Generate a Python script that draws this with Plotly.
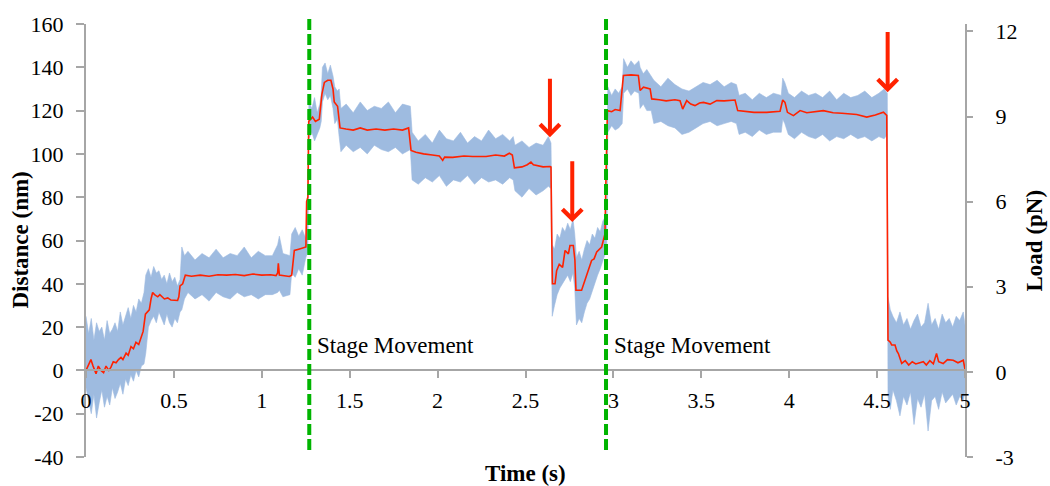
import plotly.graph_objects as go

# ---------------- data ----------------
# smoothed distance trace (red)
red_t = [0.000, 0.015, 0.028, 0.040, 0.057, 0.070, 0.085, 0.100, 0.114, 0.130, 0.142, 0.155, 0.171, 0.185,
         0.199, 0.210, 0.228, 0.240, 0.256, 0.270, 0.284, 0.300, 0.313, 0.325, 0.338, 0.350, 0.360, 0.370,
         0.379, 0.390, 0.408, 0.420, 0.446, 0.465, 0.483, 0.521, 0.528, 0.535, 0.550, 0.565, 0.600, 0.650,
         0.700, 0.750, 0.800, 0.850, 0.900, 0.950, 1.000, 1.050, 1.081, 1.090, 1.094, 1.100, 1.130, 1.157,
         1.170, 1.185, 1.210, 1.230, 1.251, 1.255, 1.262, 1.267, 1.289, 1.305, 1.327, 1.342, 1.356, 1.375,
         1.393, 1.405, 1.412, 1.431, 1.445, 1.479, 1.520, 1.560, 1.600, 1.650, 1.700, 1.750, 1.800, 1.835,
         1.849, 1.877, 1.920, 1.970, 2.010, 2.029, 2.040, 2.086, 2.150, 2.200, 2.276, 2.330, 2.380, 2.408,
         2.425, 2.437, 2.480, 2.510, 2.531, 2.545, 2.600, 2.640, 2.645, 2.649, 2.653, 2.668, 2.677, 2.692,
         2.711, 2.725, 2.744, 2.753, 2.772, 2.781, 2.787, 2.819, 2.838, 2.857, 2.876, 2.890, 2.905, 2.933,
         2.952, 2.958, 2.966, 2.990, 3.010, 3.038, 3.057, 3.100, 3.142, 3.152, 3.171, 3.209, 3.218, 3.260,
         3.300, 3.350, 3.379, 3.394, 3.417, 3.440, 3.464, 3.490, 3.512, 3.550, 3.588, 3.630, 3.692, 3.707,
         3.750, 3.800, 3.872, 3.920, 3.948, 3.963, 3.976, 3.990, 4.024, 4.062, 4.100, 4.194, 4.250, 4.300,
         4.384, 4.441, 4.490, 4.536, 4.555, 4.558, 4.562, 4.575, 4.583, 4.602, 4.612, 4.621, 4.640, 4.660,
         4.680, 4.700, 4.720, 4.763, 4.780, 4.800, 4.820, 4.838, 4.850, 4.876, 4.900, 4.933, 4.960, 4.990,
         5.000]
red_y = [0.0, 3.0, 5.0, 2.0, -1.5, 2.0, 0.0, -1.0, 2.0, 0.0, 1.5, 4.0, 3.5, 5.0,
         6.0, 5.0, 8.0, 7.0, 11.0, 10.0, 13.0, 12.0, 15.0, 18.0, 26.0, 27.0, 28.0, 33.0,
         36.0, 35.0, 34.0, 35.0, 33.0, 33.5, 32.5, 32.3, 34.0, 39.0, 40.0, 44.0, 43.5, 44.0,
         43.5, 44.2, 44.0, 44.3, 43.8, 44.5, 44.0, 44.2, 43.8, 45.0, 49.5, 44.0, 43.5, 43.4,
         44.0, 55.4, 56.0, 56.5, 57.0, 78.0, 80.0, 115.0, 117.0, 115.0, 116.0, 127.6, 133.0, 134.0,
         134.0, 130.0, 124.0, 122.0, 112.0, 111.5, 111.0, 112.0, 111.0, 111.5, 111.0, 111.5, 111.0, 112.0,
         101.6, 100.8, 100.0, 99.5, 99.0, 97.0, 98.5, 98.4, 99.0, 98.8, 98.8, 99.5, 99.0, 100.3,
         99.5, 93.6, 94.0, 95.0, 96.2, 95.0, 94.0, 94.2, 94.0, 64.0, 40.0, 40.0, 46.0, 49.0,
         47.6, 55.4, 53.8, 57.7, 57.7, 51.0, 37.0, 37.0, 41.5, 46.2, 50.8, 51.5, 54.7, 57.0,
         63.0, 90.0, 120.0, 119.5, 120.5, 120.0, 136.2, 136.5, 136.2, 129.3, 130.8, 130.0, 125.4, 125.0,
         124.5, 125.0, 124.6, 120.7, 124.6, 123.0, 122.3, 123.5, 123.8, 123.0, 124.6, 124.5, 124.9, 120.0,
         119.5, 119.2, 119.2, 119.5, 119.7, 124.9, 123.8, 119.2, 117.7, 120.0, 119.0, 120.0, 119.0, 118.8,
         118.2, 117.0, 118.0, 119.3, 117.8, 72.0, 14.0, 13.0, 11.7, 11.7, 9.0, 7.8, 3.2, 4.5,
         2.5, 4.0, 3.0, 4.0, 2.5, 4.5, 3.0, 7.8, 4.0, 3.2, 5.0, 4.7, 3.5, 4.7,
         0.5]

# raw-signal envelope (blue band): time, upper and lower edge
band_t = [0.000, 0.015, 0.030, 0.045, 0.060, 0.075, 0.090, 0.105, 0.120, 0.135, 0.150, 0.165, 0.180, 0.195,
          0.210, 0.225, 0.240, 0.255, 0.270, 0.285, 0.300, 0.315, 0.330,
          0.340, 0.355, 0.370, 0.385, 0.400, 0.415, 0.430, 0.445, 0.460, 0.475, 0.490, 0.505, 0.520, 0.535,
          0.545, 0.560, 0.580, 0.620, 0.660, 0.700, 0.740, 0.780, 0.820, 0.860, 0.900, 0.940, 0.980, 1.020,
          1.060, 1.090, 1.100, 1.120, 1.160,
          1.170, 1.190, 1.210, 1.230, 1.250, 1.262,
          1.268, 1.285, 1.300, 1.315, 1.330, 1.338, 1.345, 1.360, 1.375, 1.390, 1.405, 1.415, 1.430, 1.440,
          1.450, 1.480, 1.520, 1.560, 1.600, 1.640, 1.680, 1.720, 1.760, 1.800, 1.845,
          1.855, 1.890, 1.930, 1.970, 2.010, 2.050, 2.090, 2.130, 2.170, 2.210, 2.250, 2.290, 2.330, 2.370,
          2.410, 2.430,
          2.440, 2.480, 2.520, 2.560, 2.600, 2.630, 2.645,
          2.652, 2.665, 2.680, 2.695, 2.710, 2.725, 2.740, 2.755, 2.770, 2.780, 2.790, 2.805, 2.820, 2.835,
          2.850, 2.865, 2.880, 2.895, 2.910, 2.925, 2.940, 2.955, 2.962,
          2.968, 2.990, 3.010, 3.030, 3.050,
          3.058, 3.080, 3.100, 3.120, 3.145,
          3.152, 3.170, 3.190, 3.215,
          3.230, 3.270, 3.310, 3.350, 3.390, 3.430, 3.470, 3.510, 3.550, 3.590, 3.630, 3.670, 3.700,
          3.715, 3.750, 3.790, 3.830, 3.870, 3.910, 3.955,
          3.963, 3.975,
          3.995, 4.030, 4.070, 4.110, 4.150, 4.190, 4.230, 4.270, 4.310, 4.350, 4.390, 4.430, 4.470, 4.510,
          4.540, 4.558,
          4.562, 4.575, 4.590, 4.610, 4.630, 4.650, 4.670, 4.690, 4.710, 4.730, 4.750, 4.770, 4.790, 4.810,
          4.830, 4.850, 4.870, 4.890, 4.910, 4.930, 4.950, 4.970, 4.990, 5.000]
band_hi = [25, 17, 24, 14, 22, 18, 20, 14, 23, 17, 19, 22, 18, 27,
           21, 25, 29, 24, 30, 27, 33, 31, 36,
           44, 47, 43, 48, 45, 46, 42, 44, 40, 45, 41, 43, 39, 42,
           57, 53, 55, 51, 54, 52, 56, 52, 54, 53, 57, 52, 55, 53,
           53, 58, 62, 54, 53,
           63, 66, 62, 65, 61, 78,
           124, 121, 126, 119, 123, 128, 140, 142, 137, 141, 136, 131, 129, 130,
           121, 123, 119, 124, 120, 122, 121, 124, 119, 123, 122,
           110, 106, 109, 105, 111, 107, 106, 110, 105, 108, 106, 111, 107, 109,
           106, 108,
           104, 106, 103, 105, 104, 108, 105,
           58, 56, 63, 61, 66, 64, 68, 65, 70, 63, 52, 55, 51, 56,
           60, 58, 63, 61, 66, 64, 69, 71, 72,
           131, 127, 130, 128, 131,
           144, 140, 143, 141, 143,
           140, 137, 139, 136,
           134, 131, 135, 132, 130, 129, 131, 133, 132, 134, 131, 133, 132,
           127, 128, 125, 128, 126, 128, 127,
           135, 133,
           128, 126, 129, 127, 128, 126, 129, 125, 128, 126, 127, 129, 126, 128,
           130, 128,
           34, 28, 25, 22, 27, 21, 24, 19, 23, 26, 20, 22, 31, 21,
           24, 19, 26, 22, 24, 20, 25, 23, 27, 21]
band_lo = [-8, -14, -20, -11, -22, -15, -9, -17, -12, -16, -8, -13, -10, -6,
           -11, -4, -7, -2, -5, 0, -3, 2, 3,
           8, 20, 23, 25, 22, 27, 24, 21, 26, 22, 20, 24, 22, 27,
           28, 33, 36, 33, 35, 32, 36, 34, 33, 36, 34, 35, 33, 35,
           35, 36, 37, 34, 35,
           45, 43, 47, 44, 52, 55,
           107, 110, 106, 109, 112, 115, 124, 128, 125, 127, 121, 114, 116, 108,
           101, 104, 101, 103, 100, 104, 102, 101, 103, 100, 102,
           88, 86, 89, 87, 90, 85, 88, 87, 90, 86, 89, 87, 88, 86,
           89, 88,
           83, 80, 84, 81, 83, 85, 84,
           25, 30, 35, 38, 40, 42, 44, 41, 45, 38, 21, 24, 22, 27,
           31, 33, 37, 40, 44, 47, 51, 54, 56,
           110, 113, 111, 112, 114,
           128, 130, 127, 129, 128,
           121, 123, 120, 120,
           114, 115, 113, 112, 109, 110, 112, 114, 115, 113, 114, 115, 114,
           109, 110, 108, 111, 109, 110, 110,
           116, 114,
           109, 107, 110, 108, 107, 109, 106, 108, 107, 109, 107, 108, 106, 108,
           107, 109,
           -12, -18, -9, -14, -21, -12, -16, -10, -25, -13, -17, -11, -28, -14,
           -12, -18, -10, -15, -13, -11, -16, -12, -14, -10]

# events
stage_times = [1.270, 2.958]
stage_label = "Stage Movement"
arrow_times = [2.639, 2.766, 4.560]
arrow_tip = [107.7, 68.5, 128.5]
arrow_tail = [135.4, 97.3, 157.0]

x_ticks = [0, 0.5, 1, 1.5, 2, 2.5, 3, 3.5, 4, 4.5, 5]
x_ticktext = ["0", "0.5", "1", "1.5", "2", "2.5", "3", "3.5", "4", "4.5", "5"]
y_ticks = [-40, -20, 0, 20, 40, 60, 80, 100, 120, 140, 160]
y_ticktext = ["-40", "-20", "0", "20", "40", "60", "80", "100", "120", "140", "160"]
y2_ticks = [-3, 0, 3, 6, 9, 12]
y2_ticktext = ["-3", "0", "3", "6", "9", "12"]
stiffness = 0.075  # pN/nm, load axis scale

# ---------------- figure ----------------
FONT = "Liberation Serif"
BLUE = "rgb(158,187,224)"
RED = "#ff2200"
GREEN = "#00b400"
GREY = "#a6a6a6"

fig = go.Figure()
fig.add_trace(go.Scatter(x=band_t, y=band_lo, mode="lines", line=dict(color=BLUE, width=0.6),
                         hoverinfo="skip", showlegend=False))
fig.add_trace(go.Scatter(x=band_t, y=band_hi, mode="lines", line=dict(color=BLUE, width=0.6),
                         fill="tonexty", fillcolor=BLUE, hoverinfo="skip", showlegend=False))
fig.add_trace(go.Scatter(x=red_t, y=red_y, mode="lines", line=dict(color=RED, width=1.6),
                         showlegend=False))
fig.add_trace(go.Scatter(x=red_t, y=[v * stiffness for v in red_y], yaxis="y2", mode="lines",
                         line=dict(width=0), opacity=0, hoverinfo="skip", showlegend=False))

# stage movement lines + labels
top_px, bot_px = 16, 450
for st in stage_times:
    fig.add_shape(type="line", xref="x", yref="paper", x0=st, x1=st,
                  y0=(457 - bot_px) / 433, y1=(457 - top_px) / 433,
                  line=dict(color=GREEN, width=4, dash="11px,4px"))
    fig.add_annotation(x=st, y=11.5, xref="x", yref="y", text=stage_label, showarrow=False,
                       xanchor="left", yanchor="middle", xshift=6,
                       font=dict(family=FONT, size=23, color="black"))

# red arrows
for at, tip, tail in zip(arrow_times, arrow_tip, arrow_tail):
    fig.add_annotation(x=at, y=tip, ax=at, ay=tail, xref="x", yref="y", axref="x", ayref="y",
                       text="", showarrow=True, arrowhead=4, arrowsize=0.95, arrowwidth=4,
                       arrowcolor=RED)

# axis titles
fig.add_annotation(x=-0.075, y=0.5, xref="paper", yref="paper", text="<b>Distance (nm)</b>",
                   textangle=-90, showarrow=False, xanchor="center", yanchor="middle",
                   font=dict(family=FONT, size=23, color="black"))
fig.add_annotation(x=1.0796, y=0.5, xref="paper", yref="paper", text="<b>Load (pN)</b>",
                   textangle=-90, showarrow=False, xanchor="center", yanchor="middle",
                   font=dict(family=FONT, size=23, color="black"))
fig.add_annotation(x=0.5, y=-0.039, xref="paper", yref="paper", text="<b>Time (s)</b>",
                   showarrow=False, xanchor="center", yanchor="middle",
                   font=dict(family=FONT, size=23, color="black"))

tickfont = dict(family=FONT, size=22, color="black")
fig.update_layout(
    width=1050, height=486,
    margin=dict(l=86, r=85, t=24, b=29),
    paper_bgcolor="white", plot_bgcolor="white",
    xaxis=dict(range=[0, 5], anchor="free", position=(0 - (-40)) / 200,
               tickvals=x_ticks, ticktext=x_ticktext, ticks="outside", ticklen=7,
               tickcolor=GREY, tickwidth=1.5, showline=True, linecolor=GREY, linewidth=2,
               showgrid=False, zeroline=False, tickfont=tickfont, ticklabelstandoff=3),
    yaxis=dict(range=[-40, 160], tickvals=y_ticks, ticktext=y_ticktext, ticks="outside",
               ticklen=8, tickcolor=GREY, tickwidth=1.5, showline=True, linecolor=GREY,
               linewidth=2, showgrid=False, zeroline=False, tickfont=tickfont,
               ticklabelstandoff=8),
    yaxis2=dict(range=[-3, 12.26], overlaying="y", side="right", tickvals=y2_ticks,
                ticktext=y2_ticktext, ticks="outside", ticklen=6, tickcolor=GREY, tickwidth=1.5,
                showline=True, linecolor=GREY, linewidth=2, showgrid=False, zeroline=False,
                tickfont=tickfont, ticklabelstandoff=18),
)

fig.write_html("out.html", config={"displayModeBar": False},
               post_script="document.body.style.margin='0px';")
